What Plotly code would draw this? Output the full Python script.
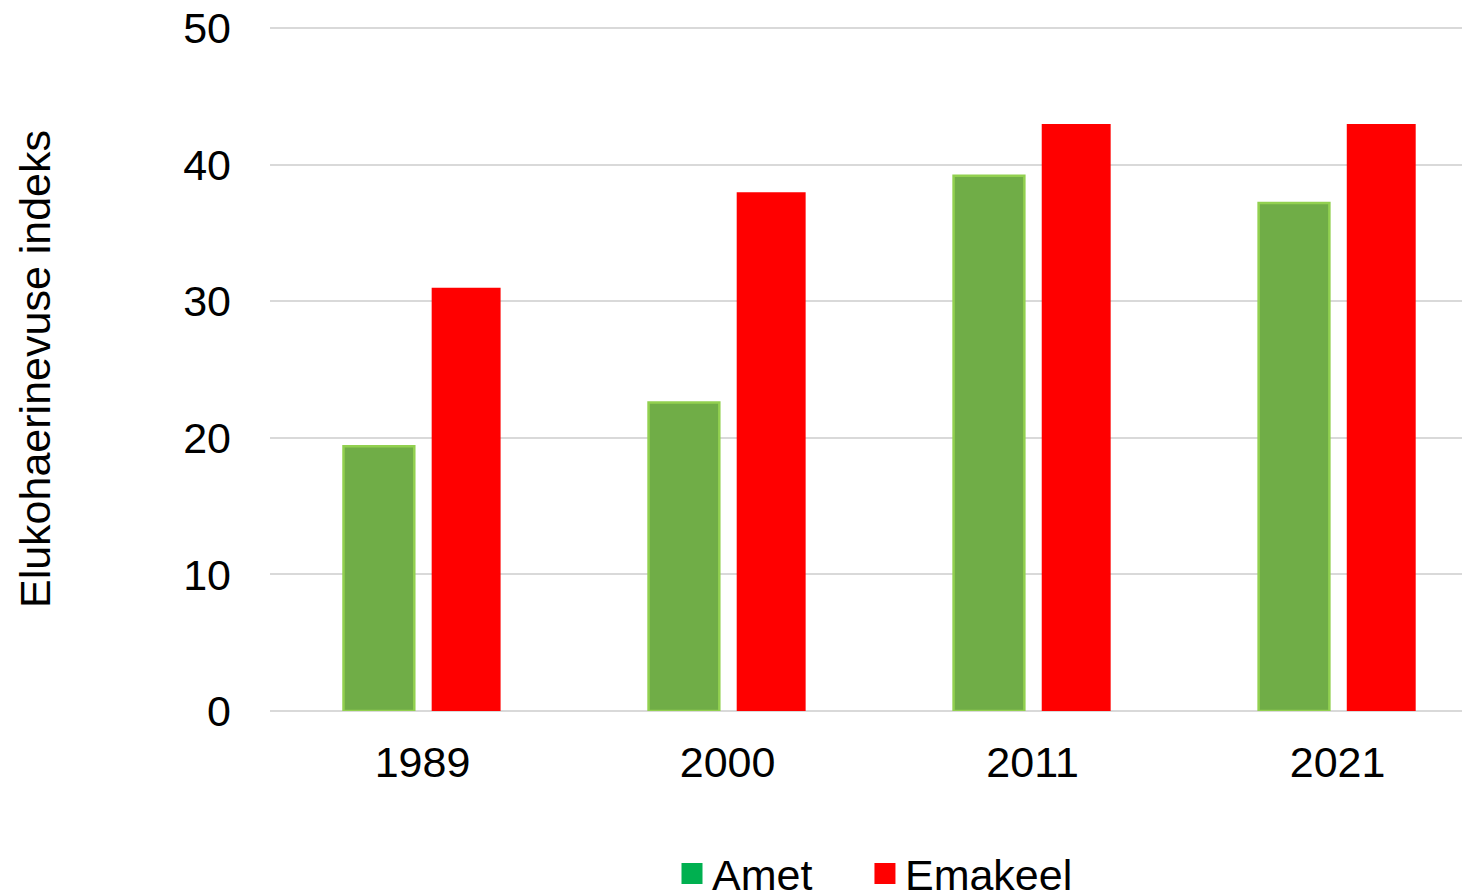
import plotly.graph_objects as go

years = ["1989", "2000", "2011", "2021"]
amet = [19.4, 22.6, 39.2, 37.2]
emakeel = [31, 38, 43, 43]
series_names = ["Amet", "Emakeel"]
y_ticks = [0, 10, 20, 30, 40, 50]
y_title = "Elukohaerinevuse indeks"

FONT = "Arial, Liberation Sans, sans-serif"
FS = 43

fig = go.Figure()
fig.add_trace(go.Bar(
    x=years, y=amet, name=series_names[0], showlegend=False,
    width=0.232, offset=-0.259,
    marker=dict(color="#70AD47", line=dict(color="#92D050", width=2.5)),
))
fig.add_trace(go.Bar(
    x=years, y=emakeel, name=series_names[1], showlegend=False,
    width=0.226, offset=0.03,
    marker=dict(color="#FF0000", line=dict(width=0)),
))
# legend entries
fig.add_trace(go.Scatter(
    x=[None], y=[None], mode="markers", name=series_names[0], legend="legend",
    marker=dict(symbol="square", size=16, color="#00B050", line=dict(color="#00B050", width=6)),
))
fig.add_trace(go.Scatter(
    x=[None], y=[None], mode="markers", name=series_names[1], legend="legend2",
    marker=dict(symbol="square", size=16, color="#FF0000", line=dict(color="#FF0000", width=6)),
))

leg_common = dict(
    orientation="h", xref="paper", xanchor="left",
    yref="paper", y=-0.288, yanchor="bottom",
    font=dict(size=FS), itemwidth=30, bgcolor="rgba(0,0,0,0)",
)

fig.update_layout(
    width=1462, height=885,
    margin=dict(l=262, r=0, t=19, b=182, autoexpand=False),
    paper_bgcolor="white", plot_bgcolor="white",
    font=dict(family=FONT, size=FS, color="black"),
    barmode="overlay",
    showlegend=True,
    legend=dict(x=0.335, **leg_common),
    legend2=dict(x=0.4958, **leg_common),
    xaxis=dict(
        type="category", range=[-0.5, 3.434],
        showgrid=False, showline=False, zeroline=False,
        ticks="", ticklabelstandoff=22,
        tickfont=dict(size=FS),
    ),
    yaxis=dict(
        range=[0, 50.1], tickvals=y_ticks,
        showgrid=True, gridcolor="#D9D9D9", gridwidth=2,
        zeroline=True, zerolinecolor="#D9D9D9", zerolinewidth=2,
        showline=False, ticks="", ticklabelstandoff=38,
        ticklabeloverflow="allow",
        tickfont=dict(size=FS),
        title=dict(text=y_title, font=dict(size=FS), standoff=119),
        automargin=False,
    ),
)

fig.write_html("out.html")
